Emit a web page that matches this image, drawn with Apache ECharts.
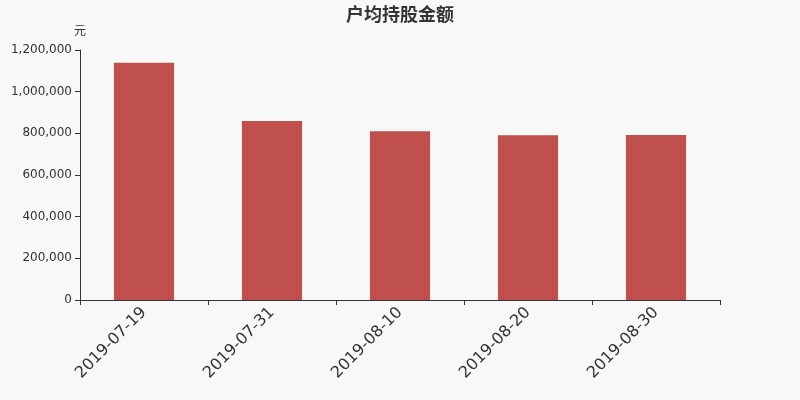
<!DOCTYPE html>
<html>
<head>
<meta charset="utf-8">
<script src="https://cdn.jsdelivr.net/npm/echarts@6/dist/echarts.min.js"></script>
<style>
html,body{margin:0;padding:0;background:#f8f8f8;}
#chart{width:800px;height:400px;}
</style>
</head>
<body>
<div id="chart"></div>
<script>
const dates=['2019-07-19','2019-07-31','2019-08-10','2019-08-20','2019-08-30'];
const amounts=[1139000,859000,810000,791000,792000];
const yTicks=[0,200000,400000,600000,800000,1000000,1200000];

const chart=echarts.init(document.getElementById('chart'));
chart.setOption({
    backgroundColor:'#f8f8f8',
    title:{
        text:'户均持股金额',
        left:'center',
        top:0,
        textStyle:{fontSize:18,fontWeight:'bold',color:'#333',fontFamily:'Noto Sans CJK SC'}
    },
    grid:{left:80,right:80,top:50,bottom:100},
    xAxis:{
        type:'category',
        data:dates,
        axisLine:{lineStyle:{color:'#333'}},
        axisTick:{show:true,alignWithLabel:false,lineStyle:{color:'#333'}},
        axisLabel:{rotate:45,fontSize:16,color:'#333',fontFamily:'DejaVu Sans',margin:10}
    },
    yAxis:{
        type:'value',
        name:'元',
        nameGap:14,
        nameTextStyle:{color:'#333',fontSize:12,align:'center',fontFamily:'Noto Sans CJK SC'},
        min:yTicks[0],
        max:yTicks[yTicks.length-1],
        interval:200000,
        axisLine:{show:true,lineStyle:{color:'#333'}},
        axisTick:{show:true,lineStyle:{color:'#333'}},
        splitLine:{show:false},
        axisLabel:{color:'#333',fontSize:12,fontFamily:'DejaVu Sans',
            formatter:v=>v.toLocaleString('en-US')}
    },
    series:[{
        type:'bar',
        data:amounts,
        barWidth:'47%',
        itemStyle:{color:'#c0504d'}
    }]
});
</script>
</body>
</html>
